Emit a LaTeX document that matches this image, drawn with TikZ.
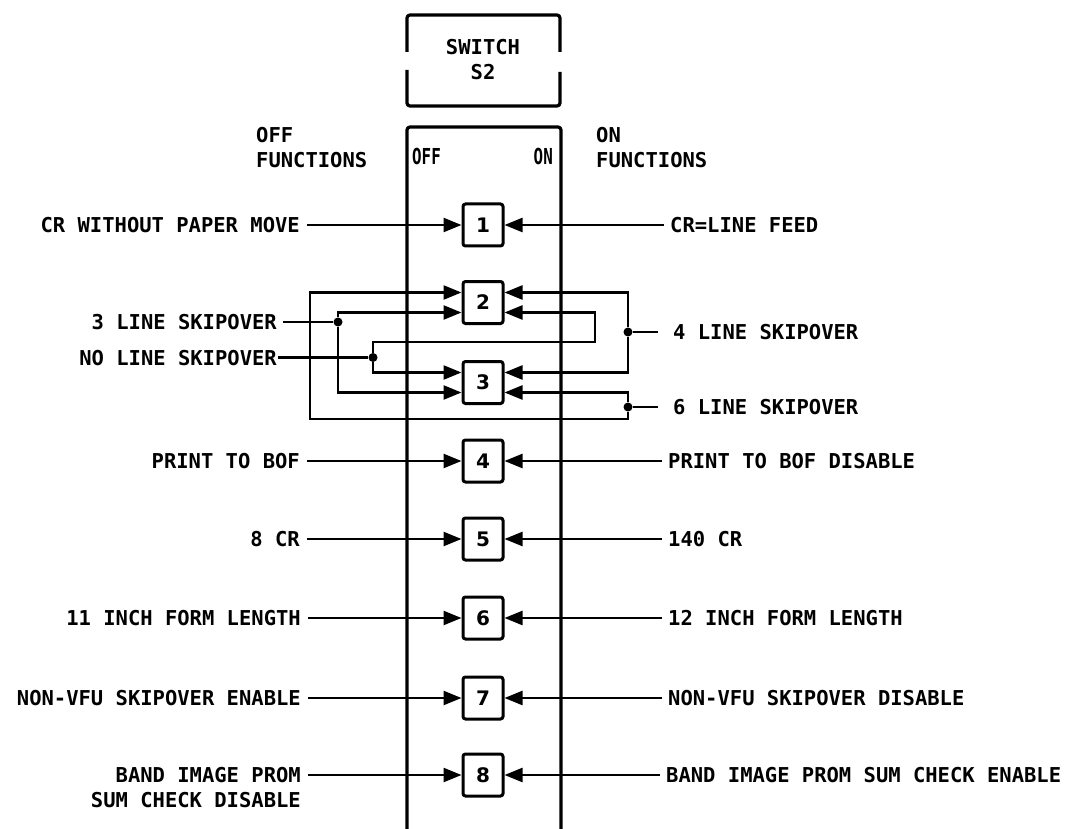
\documentclass[tikz,border=0pt]{standalone}
\usepackage{fontspec}
\newfontfamily\lblfont{DejaVu Sans Mono}
\newfontfamily\numfont{DejaVu Sans}
\usetikzlibrary{arrows.meta}
\tikzset{
  txt/.style={font=\lblfont\bfseries\fontsize{20.5}{25}\selectfont, inner sep=0pt},
  one/.style={txt, text height=15pt, text depth=0pt},
  lft/.style={one, anchor=east},
  rgt/.style={one, anchor=west},
  sw/.style={draw, line width=3pt, rounded corners=2.5pt, minimum width=40pt,
    minimum height=42pt, inner sep=0pt, font=\numfont\bfseries\fontsize{20}{20}\selectfont},
  wire/.style={line width=2.4pt},
  arr/.style={wire, -{Triangle[length=18pt,width=14pt]}},
  jdot/.style={circle, fill, inner sep=0pt, minimum size=9pt},
  frame/.style={line width=3.2pt, rounded corners=3pt},
}
\begin{document}
\begin{tikzpicture}[x=1pt,y=-1pt]
\useasboundingbox (0,0) rectangle (1071,829);
% switch S2 label box
\draw[frame] (407,52) -- (407,15) -- (560,15) -- (560,52);
\draw[frame] (407,70) -- (407,106) -- (560,106) -- (560,72);
\node[txt, align=center] (title) at (483,59.5) {SWITCH\\S2};
% main switch body
\draw[frame] (407,829) -- (407,127) -- (561,127) -- (561,829);
\node[txt, anchor=north west, align=left] (offh) at (256,127.5) {OFF\\FUNCTIONS};
\node[txt, anchor=north west, align=left] (onh) at (596,127.5) {ON\\FUNCTIONS};
\node[one, anchor=west, font=\lblfont\bfseries\fontsize{22}{25}\selectfont] (offl) at (412,157) {\scalebox{0.72}[1]{OFF}};
\node[one, anchor=east, font=\lblfont\bfseries\fontsize{22}{25}\selectfont] (onl) at (553,157) {\scalebox{0.72}[1]{ON}};
% switches
\node[sw] (b1) at (483,225) {1};
\node[sw] (b2) at (483,302.5) {2};
\node[sw] (b3) at (483,382.5) {3};
\node[sw] (b4) at (483,461) {4};
\node[sw] (b5) at (483,539) {5};
\node[sw] (b6) at (483,618) {6};
\node[sw] (b7) at (483,698) {7};
\node[sw] (b8) at (483,775) {8};
% left labels
\node[lft] (l1) at (300,225) {CR WITHOUT PAPER MOVE};
\node[lft] (l3) at (277,322) {3 LINE SKIPOVER};
\node[lft] (l0) at (277,357.5) {NO LINE SKIPOVER};
\node[lft] (l4) at (300,461) {PRINT TO BOF};
\node[lft] (l5) at (300,539) {8 CR};
\node[lft] (l6) at (301,618) {11 INCH FORM LENGTH};
\node[lft] (l7) at (301,698) {NON-VFU SKIPOVER ENABLE};
\node[txt, anchor=north east, align=right] (l8) at (301,767.5) {BAND IMAGE PROM\\SUM CHECK DISABLE};
% right labels
\node[rgt] (r1) at (670,225) {CR=LINE FEED};
\node[rgt] (r4l) at (673,332) {4 LINE SKIPOVER};
\node[rgt] (r6l) at (673,407) {6 LINE SKIPOVER};
\node[rgt] (r4) at (668,461) {PRINT TO BOF DISABLE};
\node[rgt] (r5) at (668,539) {140 CR};
\node[rgt] (r6) at (668,618) {12 INCH FORM LENGTH};
\node[rgt] (r7) at (668,698) {NON-VFU SKIPOVER DISABLE};
\node[rgt] (r8) at (666,775) {BAND IMAGE PROM SUM CHECK ENABLE};
% simple rows
\foreach \i in {1,4,5,6,7}{
  \draw[arr] ([xshift=7pt]l\i.east) -- (b\i.west);
  \draw[arr] ([xshift=-6pt]r\i.west) -- (b\i.east);
}
\draw[arr] ([xshift=7pt,yshift=-7.5pt]l8.north east) -- (b8.west);
\draw[arr] ([xshift=-6pt]r8.west) -- (b8.east);
% skipover network
\node[jdot] (d3) at (338,322) {};
\node[jdot] (d0) at (373,357.5) {};
\node[jdot] (d4) at (628,332) {};
\node[jdot] (d6) at (628,407) {};
\coordinate (c6) at (310,419);
\coordinate (c0) at (595,342);
\draw[wire] ([xshift=6pt]l3.east) -- (d3);
\draw[wire] ([xshift=1pt]l0.east) -- (d0);
\draw[wire] (d4) -- ([xshift=-15pt]r4l.west);
\draw[wire] (d6) -- ([xshift=-15pt]r6l.west);
\draw[arr] (d3) |- ([yshift=-10pt]b2.west);
\draw[arr] (d3) |- ([yshift=-10pt]b3.west);
\draw[arr] (d0) |- ([yshift=10pt]b3.west);
\draw[arr] (d0) |- (c0) |- ([yshift=-10pt]b2.east);
\draw[arr] (d4) |- ([yshift=10pt]b2.east);
\draw[arr] (d4) |- ([yshift=10pt]b3.east);
\draw[arr] (d6) |- ([yshift=-10pt]b3.east);
\draw[arr] (d6) |- (c6) |- ([yshift=10pt]b2.west);
\end{tikzpicture}
\end{document}
